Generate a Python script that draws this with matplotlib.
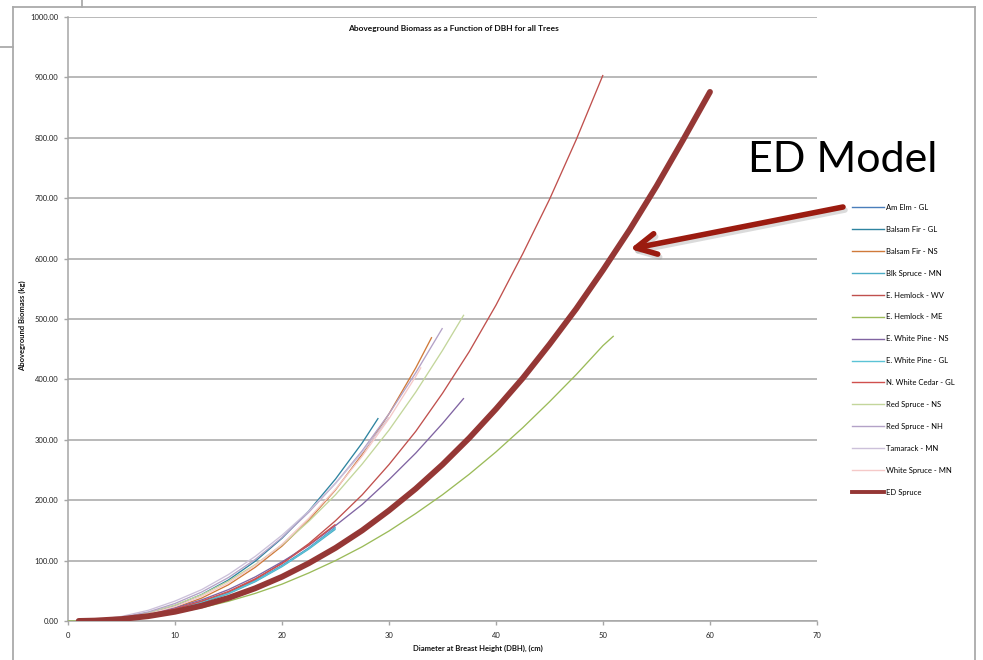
import matplotlib
matplotlib.use("Agg")
import matplotlib.pyplot as plt
from matplotlib.lines import Line2D
from matplotlib.patches import FancyArrowPatch

plt.rcParams['font.family'] = ['Lato', 'DejaVu Sans']

# ---- data ----
series_names = [
    "Am Elm - GL", "Balsam Fir - GL", "Balsam Fir - NS", "Blk Spruce - MN",
    "E. Hemlock - WV", "E. Hemlock - ME", "E. White Pine - NS", "E. White Pine - GL",
    "N. White Cedar - GL", "Red Spruce - NS", "Red Spruce - NH", "Tamarack - MN",
    "White Spruce - MN", "ED Spruce",
]
series_colors = [
    "#4A7EBB", "#2E84A0", "#D07A3A", "#4BACC6",
    "#C0504D", "#9BBB59", "#8064A2", "#5BC3D6",
    "#D0504D", "#C3D69B", "#B3A2C7", "#CCC1DA",
    "#F5C9C8", "#953735",
]

am_elm_x = [1, 2.5, 5, 7.5, 10, 12.5, 15, 17.5, 20, 22.5, 25]
am_elm_y = [0.1, 0.9, 4.0, 10.4, 19, 32, 47, 67, 92, 121, 155]
balsam_gl_x = [1, 2.5, 5, 7.5, 10, 12.5, 15, 17.5, 20, 22.5, 25, 27.5, 29]
balsam_gl_y = [0.1, 0.9, 4.8, 12.7, 25.5, 44, 68, 99, 137, 182, 235, 295, 336]
balsam_ns_x = [1, 2.5, 5, 7.5, 10, 12.5, 15, 17.5, 20, 22.5, 25, 27.5, 30, 32.5, 34]
balsam_ns_y = [0.07, 0.67, 3.8, 10.6, 21.8, 38, 60, 89, 124, 167, 217, 276, 343, 419, 470]
blk_spruce_x = [1, 2.5, 5, 7.5, 10, 12.5, 15, 17.5, 20, 22.5, 25]
blk_spruce_y = [0.1, 0.9, 3.8, 9.9, 18, 30, 45, 65, 90, 119, 152]
hemlock_wv_x = [1, 2.5, 5, 7.5, 10, 12.5, 15, 17.5, 20, 22.5, 25, 27.5, 30, 32.5, 35,
                37.5, 40, 42.5, 45, 47.5, 50]
hemlock_wv_y = [0.06, 0.6, 3.2, 8.7, 17.6, 30, 47, 69, 96, 128, 166, 209, 259, 314, 377,
                446, 523, 608, 698, 797, 904]
hemlock_me_x = [0, 1, 2.5, 5, 7.5, 10, 12.5, 15, 17.5, 20, 22.5, 25, 27.5, 30, 32.5, 35,
                37.5, 40, 42.5, 45, 47.5, 50, 51]
hemlock_me_y = [0, 0.09, 0.64, 2.9, 7.2, 13.4, 22, 32.7, 45.7, 61, 79.5, 100, 123, 149, 178,
                209, 243, 280, 320, 363, 408, 456, 472]
wpine_ns_x = [1, 2.5, 5, 7.5, 10, 12.5, 15, 17.5, 20, 22.5, 25, 27.5, 30, 32.5, 35, 37]
wpine_ns_y = [0.15, 1.1, 4.8, 11.6, 21.6, 35, 52, 73, 98, 125, 158, 193, 234, 278, 327, 369]
wpine_gl_x = [1, 2.5, 5, 7.5, 10, 12.5, 15, 17.5, 20, 22.5, 25]
wpine_gl_y = [0.1, 0.9, 3.9, 10.1, 18.5, 31, 46, 66, 91, 120, 154]
cedar_x = [1, 2.5, 5, 7.5, 10, 12.5, 15, 17.5, 20, 22.5, 25]
cedar_y = [0.1, 0.95, 4.2, 10.8, 20, 33, 49, 70, 95, 126, 160]
rspruce_ns_x = [1, 2.5, 5, 7.5, 10, 12.5, 15, 17.5, 20, 22.5, 25, 27.5, 30, 32.5, 35, 37]
rspruce_ns_y = [0.15, 1.15, 5.5, 13.8, 26.4, 43.6, 66, 93.5, 126, 165, 209, 260, 316, 379,
                448, 507]
rspruce_nh_x = [1, 2.5, 5, 7.5, 10, 12.5, 15, 17.5, 20, 22.5, 25, 27.5, 30, 32.5, 35]
rspruce_nh_y = [0.16, 1.3, 6.1, 15, 29, 48, 72, 102, 138, 180, 228, 282, 343, 411, 485]
tamarack_x = [1, 2.5, 5, 7.5, 10, 12.5, 15, 17.5, 20, 22.5, 25, 27.5, 30]
tamarack_y = [0.25, 1.7, 7.5, 17.7, 33, 52, 77, 107, 142, 182, 228, 279, 337]
wspruce_x = [1, 2.5, 5, 7.5, 10, 12.5, 15, 17.5, 20, 22.5, 25, 27.5, 30, 32.5, 33]
wspruce_y = [0.1, 0.8, 4.5, 12, 24, 41, 63, 92, 127, 170, 218, 273, 335, 405, 420]
ed_x = [1, 2.5, 5, 7.5, 10, 12.5, 15, 17.5, 20, 22.5, 25, 27.5, 30, 32.5, 35, 37.5, 40,
        42.5, 45, 47.5, 50, 52.5, 55, 57.5, 60]
ed_y = [0.08, 0.67, 3.2, 8.0, 15.3, 25.3, 38.2, 54.2, 73.2, 95.6, 121, 150, 183, 219, 259,
        303, 351, 402, 458, 517, 581, 648, 720, 797, 876]

series_x = [am_elm_x, balsam_gl_x, balsam_ns_x, blk_spruce_x, hemlock_wv_x, hemlock_me_x,
            wpine_ns_x, wpine_gl_x, cedar_x, rspruce_ns_x, rspruce_nh_x, tamarack_x,
            wspruce_x, ed_x]
series_y = [am_elm_y, balsam_gl_y, balsam_ns_y, blk_spruce_y, hemlock_wv_y, hemlock_me_y,
            wpine_ns_y, wpine_gl_y, cedar_y, rspruce_ns_y, rspruce_nh_y, tamarack_y,
            wspruce_y, ed_y]

x_ticks = [0, 10, 20, 30, 40, 50, 60, 70]
y_ticks = [0, 100, 200, 300, 400, 500, 600, 700, 800, 900, 1000]

title = "Aboveground Biomass as a Function of DBH for all Trees"
xlabel = "Diameter at Breast Height (DBH), (cm)"
ylabel = "Aboveground Biomass (kg)"
annotation = "ED Model"

# ---- figure ----
W, H = 983, 660
fig = plt.figure(figsize=(W / 100, H / 100), dpi=100)
ax = fig.add_axes([68 / W, 1 - 621 / H, (817 - 68) / W, (621 - 17) / H])

grid_c = "#A6A6A6"
ax.set_xlim(0, 70)
ax.set_ylim(0, 1000)
ax.set_yticks(y_ticks)
ax.set_yticklabels([f"{v:.2f}" for v in y_ticks])
ax.set_xticks(x_ticks)
ax.set_xticklabels([str(v) for v in x_ticks])
ax.yaxis.grid(True, color=grid_c, linewidth=1.1)
ax.set_axisbelow(True)
for s in ["top", "right"]:
    ax.spines[s].set_visible(False)
for s in ["left", "bottom"]:
    ax.spines[s].set_color(grid_c)
    ax.spines[s].set_linewidth(1.1)
ax.tick_params(axis="both", colors=grid_c, labelcolor="#222222", labelsize=5.5,
               length=3, width=1.0, direction="out")
ax.tick_params(axis="y", pad=4)
ax.tick_params(axis="x", pad=5)

handles = []
for name, c, xs, ys in zip(series_names, series_colors, series_x, series_y):
    is_ed = name == "ED Spruce"
    ln, = ax.plot(xs, ys, color=c, linewidth=4.2 if is_ed else 0.95, label=name,
                  zorder=5 if is_ed else 3,
                  solid_capstyle="round" if is_ed else "butt",
                  solid_joinstyle="round")
    handles.append(ln)

leg_handles = [Line2D([0], [0], color=h.get_color(),
                      linewidth=2.8 if h.get_label() == "ED Spruce" else 1.0)
               for h in handles]
fig.legend(leg_handles, series_names, loc="upper left",
           bbox_to_anchor=(852 / W, 1 - 204 / H), frameon=False,
           fontsize=5.5, handlelength=4.2, handletextpad=0.25,
           labelspacing=1.95, borderaxespad=0, borderpad=0)

fig.text(453 / W, 1 - 28 / H, title, ha="center", va="center",
         fontsize=6, fontweight="bold", color="#111111")
fig.text(478 / W, 1 - 648 / H, xlabel, ha="center", va="center",
         fontsize=5.5, fontweight="bold", color="#111111")
fig.text(22 / W, 1 - 326 / H, ylabel, ha="center", va="center", rotation=90,
         fontsize=5.5, fontweight="bold", color="#111111")

fig.text(843 / W, 1 - 172 / H, annotation, ha="center", va="baseline",
         fontsize=31, color="black")

# arrow with soft shadow
for dx, dy, col, a in [(2, 3, "#999999", 0.35), (0, 0, "#9B1B10", 1.0)]:
    fig.add_artist(FancyArrowPatch(
        ((843 + dx) / W, 1 - (207 + dy) / H), ((630 + dx) / W, 1 - (249 + dy) / H),
        transform=fig.transFigure, mutation_scale=10,
        arrowstyle="->,head_length=1.45,head_width=0.75",
        color=col, alpha=a, linewidth=4, shrinkA=0, shrinkB=0,
        capstyle="round", joinstyle="round"))

# slide frame lines
fc = "#AAAAAA"
for (x0, y0, x1, y1) in [(13, 7, 975, 7), (13, 7, 13, 660), (975, 7, 975, 660),
                         (82, 0, 82, 7), (0, 47, 13, 47)]:
    fig.add_artist(Line2D([x0 / W, x1 / W], [1 - y0 / H, 1 - y1 / H],
                          transform=fig.transFigure, color=fc, linewidth=1.3))

fig.savefig("out.png", dpi=100)
